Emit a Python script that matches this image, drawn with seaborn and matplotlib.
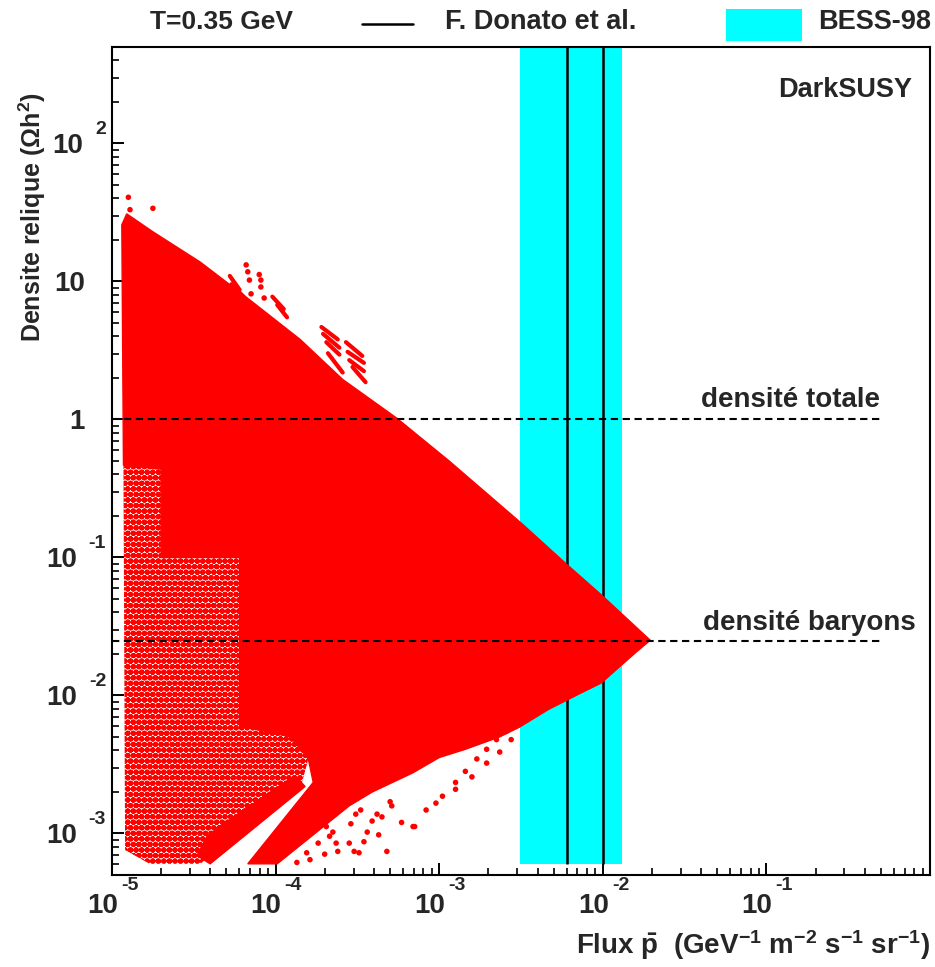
import numpy as np
import matplotlib
matplotlib.use('Agg')
import matplotlib.pyplot as plt
import matplotlib.transforms as mtransforms
from matplotlib.patches import Rectangle
from matplotlib.lines import Line2D
from matplotlib.ticker import LogLocator, NullFormatter
import seaborn as sns

# ---- data (log10 of flux / relic density) ----
# dense part of the DarkSUSY scan (outline)
main_lx = [-4.93, -4.94, -4.91, -4.75, -4.46, -4.14, -3.85, -3.59, -3.26, -2.94, -2.49, -2.23,
           -2.01, -1.71, -1.80, -2.01, -2.13, -2.33, -2.51, -2.63, -2.84, -3.00, -3.16, -3.41,
           -3.55, -3.99, -4.17, -3.77, -3.80, -3.91, -4.22, -4.22, -4.70, -4.70]
main_ly = [-0.33, 1.41, 1.49, 1.36, 1.14, 0.85, 0.58, 0.29, 0.01, -0.30, -0.76, -1.04,
           -1.27, -1.60, -1.69, -1.91, -1.98, -2.10, -2.23, -2.30, -2.39, -2.45, -2.56, -2.70,
           -2.80, -3.22, -3.22, -2.63, -2.46, -2.30, -2.22, -1.00, -1.00, -0.36]
# lower left finger
finger_lx = [-4.48, -4.40, -3.82, -3.88, -4.22, -4.42]
finger_ly = [-3.16, -3.22, -2.66, -2.58, -2.85, -3.02]
# sparse part of the scan (outline)
sparse_lx = [-4.93, -4.70, -4.70, -4.22, -4.22, -3.91, -3.80, -3.85, -4.10, -4.46, -4.77, -4.92]
sparse_ly = [-0.33, -0.36, -1.00, -1.00, -2.22, -2.30, -2.46, -2.68, -2.86, -3.22, -3.22, -3.12]
# isolated models
dot_lx = [-3.87, -3.79, -3.81, -3.70, -3.74, -3.67, -3.63, -3.62, -3.55, -3.52, -3.49, -3.46, -3.44,
          -3.41, -3.37, -3.35, -3.30, -3.29, -3.16, -3.69, -3.65, -3.54, -3.51, -3.48, -3.38, -3.32,
          -3.23, -3.08, -2.98, -2.90, -2.84, -2.77, -2.71, -2.65, -2.59,
          -3.15, -3.02, -2.90, -2.80, -2.71, -2.63, -2.56,
          -4.90, -4.89, -4.75, -4.18, -4.17, -4.16, -4.15, -4.10, -4.09, -4.09, -4.07]
dot_ly = [-3.21, -3.19, -3.14, -3.15, -3.07, -3.02, -3.07, -3.13, -3.07, -3.13, -3.14, -3.06, -2.99,
          -2.91, -3.01, -2.88, -2.77, -2.80, -2.95, -2.95, -2.99, -2.93, -2.86, -2.83, -2.86, -3.13,
          -2.92, -2.83, -2.73, -2.63, -2.55, -2.46, -2.39, -2.32, -2.26,
          -2.95, -2.78, -2.68, -2.59, -2.49, -2.41, -2.32,
          1.61, 1.52, 1.53, 1.12, 1.07, 1.01, 0.91, 1.05, 1.01, 0.96, 0.88]
# short streaks above the upper edge
streak_x0 = [-4.28, -4.27, -4.26, -4.02, -3.99, -3.72, -3.71, -3.69, -3.68, -3.57, -3.56, -3.55, -3.53]
streak_y0 = [1.04, 0.98, 0.94, 0.89, 0.83, 0.67, 0.62, 0.56, 0.48, 0.56, 0.49, 0.43, 0.38]
streak_x1 = [-4.22, -4.18, -4.23, -3.95, -3.93, -3.62, -3.61, -3.61, -3.59, -3.47, -3.46, -3.46, -3.45]
streak_y1 = [0.94, 0.87, 0.86, 0.80, 0.74, 0.58, 0.52, 0.47, 0.34, 0.46, 0.41, 0.35, 0.27]

# BESS-98 band and F. Donato et al. predictions
bess_lo, bess_hi = 3.1e-3, 1.31e-2
donato_flux = [6.0e-3, 1.0e-2]
band_ymin, band_ymax = 6e-4, 500
omega_total, omega_baryon = 1.0, 0.025
line_xmin, line_xmax = 1e-5, 0.5

xtick_vals = [1e-5, 1e-4, 1e-3, 1e-2, 1e-1]
xtick_base = ['10', '10', '10', '10', '10']
xtick_exp = ['-5', '-4', '-3', '-2', '-1']
ytick_vals = [1e2, 1e1, 1.0, 1e-1, 1e-2, 1e-3]
ytick_base = ['10', '10', '1', '10', '10', '10']
ytick_exp = ['2', '', '', '-1', '-2', '-3']

# ---- style ----
sns.set_theme(style='white')
plt.rcParams['font.family'] = ['Liberation Sans', 'DejaVu Sans']
plt.rcParams['font.weight'] = 'bold'
plt.rcParams['mathtext.fontset'] = 'custom'
plt.rcParams['mathtext.rm'] = 'Liberation Sans:bold'
plt.rcParams['mathtext.bf'] = 'Liberation Sans:bold'
plt.rcParams['mathtext.it'] = 'Liberation Sans:bold'
plt.rcParams['mathtext.default'] = 'bf'
plt.rcParams['hatch.linewidth'] = 2.2
plt.rcParams['hatch.color'] = 'red'

RED = '#ff0000'
CYAN = '#00ffff'

fig = plt.figure(figsize=(9.35, 9.67), dpi=100)
ax = fig.add_axes([112 / 935, 92 / 967, 818 / 935, 828 / 967])
ax.set_xscale('log')
ax.set_yscale('log')
ax.set_xlim(1e-5, 1)
ax.set_ylim(5e-4, 500)

# BESS band + Donato lines
ax.fill_between([bess_lo, bess_hi], band_ymin, band_ymax, color=CYAN, lw=0, zorder=1)
ax.vlines(donato_flux, band_ymin, band_ymax, colors='black', lw=1.8, zorder=2)

# scan
ax.fill(10 ** np.array(sparse_lx), 10 ** np.array(sparse_ly), facecolor='none',
        edgecolor=RED, hatch='ooo', lw=0, zorder=3)
ax.fill(10 ** np.array(main_lx), 10 ** np.array(main_ly), color=RED, lw=1.0, zorder=3)
ax.fill(10 ** np.array(finger_lx), 10 ** np.array(finger_ly), color=RED, lw=1.0, zorder=3)
for x0, y0, x1, y1 in zip(streak_x0, streak_y0, streak_x1, streak_y1):
    ax.plot([10 ** x0, 10 ** x1], [10 ** y0, 10 ** y1], color=RED, lw=3,
            solid_capstyle='round', zorder=3)
sns.scatterplot(x=10 ** np.array(dot_lx), y=10 ** np.array(dot_ly), color=RED, s=16,
                edgecolor='none', ax=ax, zorder=3, legend=False)

# density lines
ax.plot([line_xmin, line_xmax], [omega_total] * 2, color='black', lw=1.5,
        ls=(0, (3.5, 2.2)), zorder=4)
ax.plot([line_xmin, line_xmax], [omega_baryon] * 2, color='black', lw=1.5,
        ls=(0, (3.5, 2.2)), zorder=4)

ax.text(0.939, 0.574, 'densité totale', transform=ax.transAxes, ha='right', va='center',
        fontsize=20, fontweight='bold')
ax.text(0.982, 0.304, 'densité baryons', transform=ax.transAxes, ha='right', va='center',
        fontsize=20, fontweight='bold')
ax.text(0.978, 0.948, 'DarkSUSY', transform=ax.transAxes, ha='right', va='center',
        fontsize=19.5, fontweight='bold')

# axes frame / ticks (ROOT look)
for s in ax.spines.values():
    s.set_color('black')
    s.set_linewidth(1.5)
ax.grid(False)
ax.xaxis.set_major_locator(LogLocator(base=10, numticks=100))
ax.yaxis.set_major_locator(LogLocator(base=10, numticks=100))
ax.xaxis.set_minor_locator(LogLocator(base=10, subs=np.arange(2, 10), numticks=100))
ax.yaxis.set_minor_locator(LogLocator(base=10, subs=np.arange(2, 10), numticks=100))
ax.xaxis.set_minor_formatter(NullFormatter())
ax.yaxis.set_minor_formatter(NullFormatter())
ax.tick_params(which='both', direction='in', top=False, right=False, bottom=True, left=True,
               labelbottom=False, labelleft=False, color='black')
ax.tick_params(which='major', length=8.6, width=1.4)
ax.tick_params(which='minor', length=5, width=1.2)

# tick labels drawn as 10 + raised exponent
tx = ax.get_xaxis_transform()
for v, b, e in zip(xtick_vals, xtick_base, xtick_exp):
    ax.text(v, 0, b, transform=mtransforms.offset_copy(tx, fig, x=6, y=-31, units='dots'),
            ha='right', va='center', fontsize=20, fontweight='bold')
    ax.text(v, 0, e, transform=mtransforms.offset_copy(tx, fig, x=9, y=-11, units='dots'),
            ha='left', va='center', fontsize=14, fontweight='bold')

ty = ax.get_yaxis_transform()
for v, b, e in zip(ytick_vals, ytick_base, ytick_exp):
    if e:
        et = ax.text(0, v, e, transform=mtransforms.offset_copy(ty, fig, x=-6, y=14, units='dots'),
                     ha='right', va='center', fontsize=14, fontweight='bold')
        ax.annotate(b, xy=(0, 0.5), xycoords=et, xytext=(-8.6, -12.2), textcoords='offset points',
                    ha='right', va='center', fontsize=20, fontweight='bold')
    else:
        ax.text(0, v, b, transform=mtransforms.offset_copy(ty, fig, x=-27, y=-3, units='dots'),
                ha='right', va='center', fontsize=20, fontweight='bold')

fig.text(0.035, 1 - 217 / 967, r'Densite relique ($\Omega$h$^{2}$)', rotation=90,
         ha='center', va='center', fontsize=18, fontweight='bold')
fig.text(930 / 935, 1 - 945 / 967,
         r'Flux $\bar{p}$  (GeV$^{-1}$ m$^{-2}$ s$^{-1}$ sr$^{-1}$)',
         ha='right', va='center', fontsize=20, fontweight='bold')

# header legend
fig.text(222 / 935, 1 - 22 / 967, 'T=0.35 GeV', ha='center', va='center', fontsize=19,
         fontweight='bold')
fig.add_artist(Line2D([362 / 935, 413 / 935], [1 - 24 / 967] * 2, color='black', lw=1.8,
                      transform=fig.transFigure))
fig.text(541 / 935, 1 - 22 / 967, 'F. Donato et al.', ha='center', va='center', fontsize=19.5,
         fontweight='bold')
fig.add_artist(Rectangle((726 / 935, 1 - 41 / 967), 76 / 935, 32 / 967, color=CYAN, lw=0,
                         transform=fig.transFigure))
fig.text(875 / 935, 1 - 22 / 967, 'BESS-98', ha='center', va='center', fontsize=19.5,
         fontweight='bold')

fig.savefig('out.png', dpi=100, facecolor='white')
